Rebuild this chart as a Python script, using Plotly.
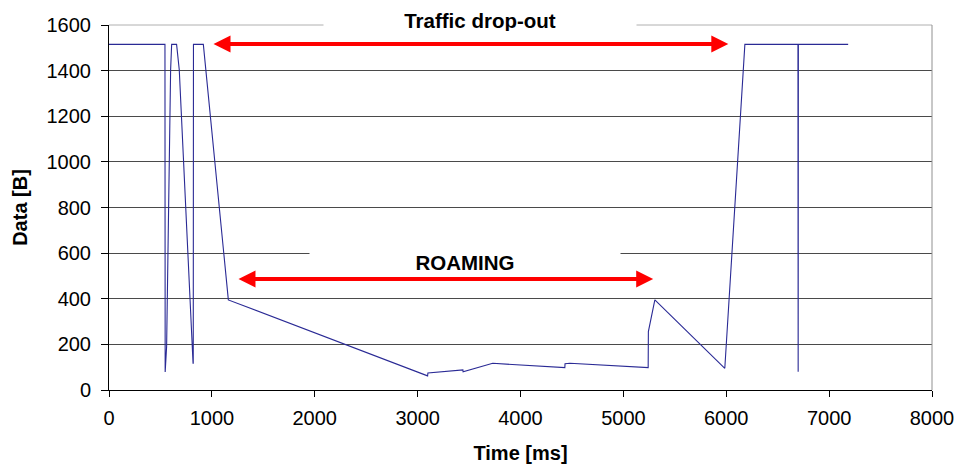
import plotly.graph_objects as go

# Packet size trace over time during a roaming event
time_ms = [0, 150, 300, 450, 544, 546, 560, 599, 609, 657, 683, 817, 819, 821,
           917, 1160, 3097, 3100, 3440, 3442, 3730, 4431, 4433, 4480, 5225,
           5241, 5243, 5306, 5986, 6181, 6697, 6699, 6701, 7185]
data_b = [1515, 1515, 1515, 1515, 1515, 79, 190, 1404, 1515, 1515, 1404, 117, 117, 1515,
          1515, 395, 62, 75, 88, 80, 117, 98, 115, 117, 98,
          98, 256, 395, 95, 1515, 1515, 80, 1515, 1515]

x_ticks = [0, 1000, 2000, 3000, 4000, 5000, 6000, 7000, 8000]
y_ticks = [0, 200, 400, 600, 800, 1000, 1200, 1400, 1600]

# Labelled time spans (start, end, level)
dropout_label = "Traffic drop-out"
dropout_span = [1001, 6020]
dropout_level = 1517
roaming_label = "ROAMING"
roaming_span = [1244, 5290]
roaming_level = 487

FONT = "Liberation Sans, Arial, sans-serif"

fig = go.Figure()
fig.add_trace(go.Scatter(
    x=time_ms, y=data_b, mode="lines",
    line=dict(color="#2a2a95", width=1.1),
    hoverinfo="x+y", showlegend=False,
))

annotations = []
for span, level in [(dropout_span, dropout_level), (roaming_span, roaming_level)]:
    annotations.append(dict(
        x=span[1], y=level, ax=span[0], ay=level,
        xref="x", yref="y", axref="x", ayref="y",
        text="", showarrow=True, arrowside="end+start",
        arrowhead=2, arrowsize=0.85, arrowwidth=4, arrowcolor="#ff0000",
        standoff=0, startstandoff=0,
    ))

# Span labels on white boxes that interrupt the gridlines behind them
annotations.append(dict(
    x=3606, y=1.0137, xref="x", yref="paper", text=f"<b>{dropout_label}</b>",
    showarrow=False, font=dict(family=FONT, size=20.5, color="#000000"),
    bgcolor="#ffffff", width=310, height=22, xanchor="center", yanchor="middle",
))
annotations.append(dict(
    x=3460, y=561, xref="x", yref="y", text=f"<b>{roaming_label}</b>",
    showarrow=False, font=dict(family=FONT, size=20.5, color="#000000"),
    bgcolor="#ffffff", width=308, height=24, xanchor="center", yanchor="middle",
))

fig.update_layout(
    width=959, height=464,
    margin=dict(l=109, r=27, t=25, b=74, autoexpand=False),
    paper_bgcolor="#ffffff", plot_bgcolor="#ffffff",
    font=dict(family=FONT, size=20, color="#000000"),
    annotations=annotations,
    shapes=[
        dict(type="line", xref="paper", yref="paper", x0=0, x1=1, y0=1, y1=1,
             line=dict(color="#b0b0b0", width=1), layer="above"),
        dict(type="line", xref="paper", yref="paper", x0=1, x1=1, y0=0, y1=1,
             line=dict(color="#909090", width=1), layer="above"),
    ],
)

fig.update_xaxes(
    range=[0, 8000], tickvals=x_ticks, ticktext=[str(v) for v in x_ticks],
    showgrid=False, zeroline=False, automargin=False,
    showline=True, linecolor="#000000", linewidth=1,
    ticks="outside", ticklen=6, tickcolor="#000000", ticklabelstandoff=4,
    tickfont=dict(family=FONT, size=20),
    title=dict(text="<b>Time [ms]</b>", font=dict(family=FONT, size=20), standoff=17),
)
fig.update_yaxes(
    range=[0, 1600], tickvals=y_ticks, ticktext=[str(v) for v in y_ticks],
    showgrid=True, gridcolor="#4a4a4a", gridwidth=1, zeroline=False, automargin=False,
    showline=True, linecolor="#000000", linewidth=1,
    ticks="outside", ticklen=7, tickcolor="#000000", ticklabelstandoff=6,
    tickfont=dict(family=FONT, size=20),
    title=dict(text="<b>Data [B]</b>", font=dict(family=FONT, size=20), standoff=13),
)

fig.write_html("out.html")
